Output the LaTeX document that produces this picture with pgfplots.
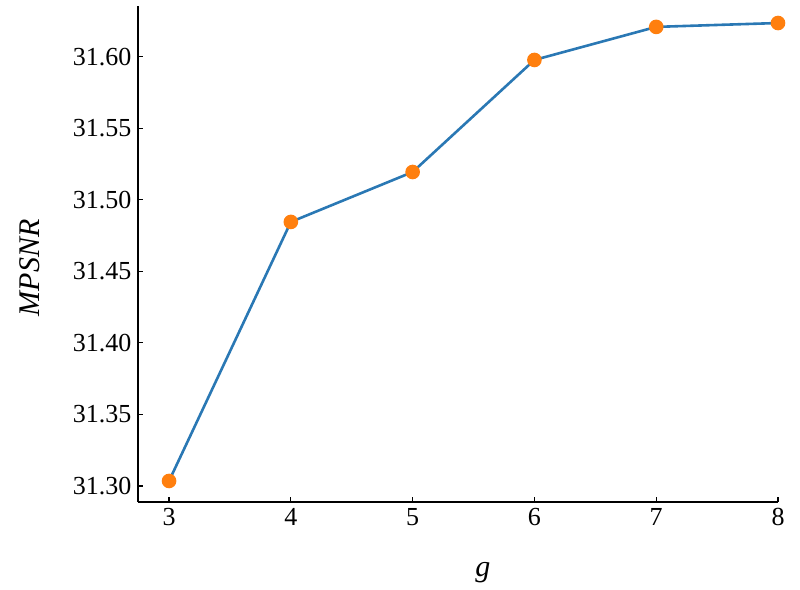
\documentclass[border=0pt]{standalone}
\usepackage{fontspec}
\setmainfont{Liberation Serif}
\usepackage{pgfplots}
\pgfplotsset{compat=1.18}
\definecolor{lineblue}{HTML}{2A78B4}
\definecolor{dotorange}{HTML}{FF7F0E}
\begin{document}
\begin{tikzpicture}
\begin{axis}[
  width=640pt, height=496pt,
  scale only axis,
  xmin=2.745, xmax=8,
  ymin=31.2888, ymax=31.6354,
  axis x line*=bottom,
  axis y line*=left,
  axis line style={line width=1.2pt, -},
  tick style={line width=1.2pt, black},
  major tick length=5pt,
  tick align=inside,
  xtick={3,4,5,6,7,8},
  ytick={31.30,31.35,31.40,31.45,31.50,31.55,31.60},
  yticklabel style={xshift=-3pt, /pgf/number format/fixed,
    /pgf/number format/fixed zerofill, /pgf/number format/precision=2},
  /pgf/number format/assume math mode=true,
  ticklabel style={font=\rmfamily\fontsize{26}{31}\selectfont},
  xticklabel style={yshift=-3pt},
  xlabel={\textit{g}},
  ylabel={\textit{MPSNR}},
  label style={font=\rmfamily\fontsize{30}{35}\selectfont},
  xlabel style={at={(axis description cs:0.539,-0.143)}, anchor=center},
  ylabel style={at={(axis description cs:-0.169,0.472)}, anchor=center},
]
\addplot[lineblue, line width=2.6pt, mark=*, mark size=6pt,
  mark options={fill=dotorange, draw=dotorange}]
  coordinates {
  (3,31.3035) (4,31.4845) (5,31.5194) (6,31.5977) (7,31.6208) (8,31.6235)
  };
\coordinate (O) at (rel axis cs:0,0);
\end{axis}
\useasboundingbox ([shift={(-138pt,-87pt)}]O) rectangle ++(800pt,589pt);
\end{tikzpicture}
\end{document}
